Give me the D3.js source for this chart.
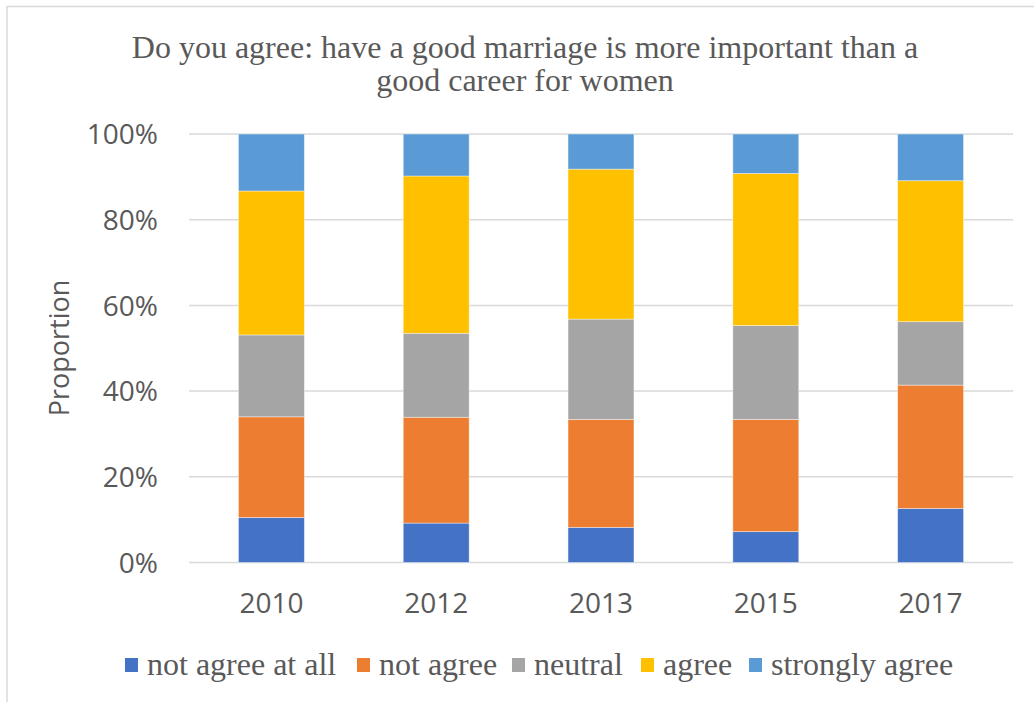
<!DOCTYPE html>
<html>
<head>
<meta charset="utf-8">
<script src="https://cdn.jsdelivr.net/npm/d3@7"></script>
<style>
  html, body { margin: 0; padding: 0; background: #fff; }
  svg { display: block; }
</style>
</head>
<body>
<svg id="chart" width="1034" height="702"></svg>
<script>
// Survey years and response shares (percent of respondents)
const years = ["2010", "2012", "2013", "2015", "2017"];
const seriesNames = ["not agree at all", "not agree", "neutral", "agree", "strongly agree"];
const notAgreeAtAll = [10.5, 9.2, 8.2, 7.2, 12.6];
const notAgree      = [23.5, 24.7, 25.2, 26.2, 28.8];
const neutral       = [19.1, 19.6, 23.4, 21.9, 14.8];
const agree         = [33.6, 36.7, 35.0, 35.5, 32.9];
const stronglyAgree = [13.3, 9.8, 8.2, 9.2, 10.9];
const yTicks = [0, 20, 40, 60, 80, 100];
const colors = ["#4472C4", "#ED7D31", "#A5A5A5", "#FFC000", "#5B9BD5"];

const seriesValues = [notAgreeAtAll, notAgree, neutral, agree, stronglyAgree];
const rows = years.map((y, i) => {
  const r = { year: y };
  seriesNames.forEach((s, k) => { r[s] = seriesValues[k][i]; });
  return r;
});

const svg = d3.select("#chart");
const textColor = "#595959";
const sansFont = "'Open Sans', sans-serif";
const serifFont = "'Liberation Serif', 'Times New Roman', serif";

// chart frame
svg.append("rect")
  .attr("x", 7).attr("y", 6.5)
  .attr("width", 1100).attr("height", 800)
  .attr("fill", "none").attr("stroke", "#d9d9d9").attr("stroke-width", 1.5);

const plot = { left: 189, right: 1013, top: 134, bottom: 562.5 };

const x = d3.scaleBand().domain(years).range([plot.left, plot.right]).paddingInner(0.6).paddingOuter(0.3);
const y = d3.scaleLinear().domain([0, 100]).range([plot.bottom, plot.top]);

// gridlines
svg.append("g")
  .selectAll("line")
  .data(yTicks)
  .join("line")
  .attr("x1", plot.left).attr("x2", plot.right)
  .attr("y1", d => y(d)).attr("y2", d => y(d))
  .attr("stroke", "#d9d9d9").attr("stroke-width", 1.5);

// stacked bars
const stack = d3.stack().keys(seriesNames);
const layers = stack(rows);

svg.append("g")
  .selectAll("g")
  .data(layers)
  .join("g")
  .attr("fill", (d, i) => colors[i])
  .selectAll("rect")
  .data(d => d)
  .join("rect")
  .attr("x", d => x(d.data.year))
  .attr("width", x.bandwidth())
  .attr("y", d => y(d[1]))
  .attr("height", d => y(d[0]) - y(d[1]))
  .attr("stroke", "#ffffff").attr("stroke-opacity", 0.5).attr("stroke-width", 0.8);

// y axis labels
const yAxis = d3.axisLeft(y).tickValues(yTicks).tickFormat(d => d + "%").tickSize(0).tickPadding(0);
const gy = svg.append("g").attr("transform", `translate(158,0)`).call(yAxis);
gy.select(".domain").remove();
gy.selectAll("text")
  .attr("fill", textColor)
  .attr("font-family", sansFont)
  .attr("font-size", 28)
  .attr("dy", "0.35em");

// x axis labels
const xAxis = d3.axisBottom(x).tickSize(0).tickPadding(0);
const gx = svg.append("g").attr("transform", `translate(0,${plot.bottom})`).call(xAxis);
gx.select(".domain").remove();
gx.selectAll("text")
  .attr("fill", textColor)
  .attr("font-family", sansFont)
  .attr("font-size", 28)
  .attr("y", 50)
  .attr("dy", 0);

// y axis title
svg.append("text")
  .attr("transform", "translate(69,348) rotate(-90)")
  .attr("text-anchor", "middle")
  .attr("fill", textColor)
  .attr("font-family", sansFont)
  .attr("font-size", 27)
  .text("Proportion");

// chart title
const title = svg.append("text")
  .attr("text-anchor", "middle")
  .attr("fill", textColor)
  .attr("font-family", serifFont)
  .attr("font-size", 32);
title.append("tspan").attr("x", 525).attr("y", 58)
  .text("Do you agree: have a good marriage is more important than a");
title.append("tspan").attr("x", 525).attr("y", 91)
  .text("good career for women");

// legend
const legendX = [125, 357, 512, 641, 749];
const legend = svg.append("g");
seriesNames.forEach((name, i) => {
  const g = legend.append("g").attr("transform", `translate(${legendX[i]},658)`);
  g.append("rect").attr("width", 13).attr("height", 14).attr("fill", colors[i]);
  g.append("text")
    .attr("x", 22).attr("y", 17)
    .attr("fill", textColor)
    .attr("font-family", serifFont)
    .attr("font-size", 32)
    .text(name);
});
</script>
</body>
</html>
